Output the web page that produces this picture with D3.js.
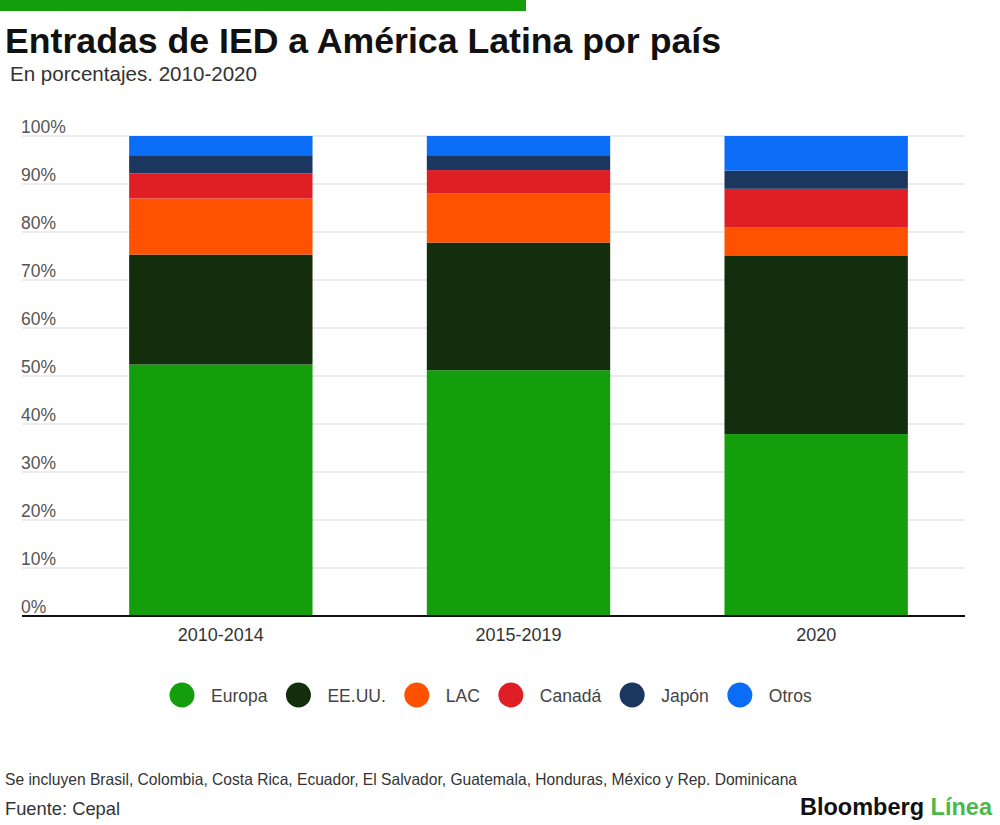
<!DOCTYPE html>
<html>
<head>
<meta charset="utf-8">
<script src="https://cdn.jsdelivr.net/npm/d3@7"></script>
<style>
  body { margin: 0; background: #fff; }
  svg { display: block; }
</style>
</head>
<body>
<div id="chart"></div>
<script>
// data (percent of total)
const periods = ["2010-2014", "2015-2019", "2020"];
const series = ["Europa", "EE.UU.", "LAC", "Canadá", "Japón", "Otros"];
const europa = [52.4, 51.2, 37.9];
const eeuu   = [22.9, 26.6, 37.1];
const lac    = [11.7, 10.2, 5.9];
const canada = [5.2, 4.9, 8.1];
const japon  = [3.8, 3.1, 3.8];
const otros  = [4.0, 4.0, 7.2];
const yTicks = [0, 10, 20, 30, 40, 50, 60, 70, 80, 90, 100];
const colors = ["#149e0c", "#122e0c", "#ff5200", "#e01e26", "#1b365f", "#0b6cf5"];

const width = 1000, height = 825;
const narrow = "'Liberation Sans Narrow', 'Liberation Sans', Arial, sans-serif";
const regular = "'Liberation Sans', Arial, sans-serif";

const rows = periods.map((p, i) => ({
  period: p,
  "Europa": europa[i], "EE.UU.": eeuu[i], "LAC": lac[i],
  "Canadá": canada[i], "Japón": japon[i], "Otros": otros[i]
}));

const svg = d3.select("#chart").append("svg")
  .attr("width", width)
  .attr("height", height);

// green strip on top
svg.append("rect").attr("x", 0).attr("y", 0).attr("width", 526).attr("height", 11).attr("fill", "#149e0c");

svg.append("text")
  .attr("x", 5).attr("y", 53)
  .attr("font-family", narrow).attr("font-weight", "bold").attr("font-size", 35)
  .attr("fill", "#111")
  .attr("textLength", 716).attr("lengthAdjust", "spacingAndGlyphs")
  .text("Entradas de IED a América Latina por país");

svg.append("text")
  .attr("x", 10).attr("y", 81)
  .attr("font-family", narrow).attr("font-size", 20)
  .attr("fill", "#333")
  .attr("textLength", 247).attr("lengthAdjust", "spacingAndGlyphs")
  .text("En porcentajes. 2010-2020");

const x = d3.scaleBand().domain(periods).range([72, 965])
  .paddingInner(0.384).paddingOuter(0.192);
const y = d3.scaleLinear().domain([0, 100]).range([616, 136]);

// gridlines + labels sitting on top of them
const grid = svg.append("g");
grid.selectAll("line").data(yTicks.slice(1)).join("line")
  .attr("x1", 22).attr("x2", 965)
  .attr("y1", d => y(d)).attr("y2", d => y(d))
  .attr("stroke", "#d9d9d9").attr("stroke-width", 1);
grid.selectAll("text").data(yTicks).join("text")
  .attr("x", 21).attr("y", d => y(d) - 3.5)
  .attr("font-family", regular).attr("font-size", 17.5)
  .attr("fill", "#555")
  .text(d => d + "%");

const stacked = d3.stack().keys(series)(rows);

svg.append("g").selectAll("g").data(stacked).join("g")
  .attr("fill", (d, i) => colors[i])
  .selectAll("rect").data(d => d).join("rect")
  .attr("x", d => x(d.data.period))
  .attr("width", x.bandwidth())
  .attr("y", d => y(d[1]))
  .attr("height", d => y(d[0]) - y(d[1]));

// baseline
svg.append("line")
  .attr("x1", 22).attr("x2", 965).attr("y1", y(0)).attr("y2", y(0))
  .attr("stroke", "#111").attr("stroke-width", 2);

const xAxis = svg.append("g").attr("transform", `translate(0,${y(0)})`)
  .call(d3.axisBottom(x).tickSize(0).tickPadding(0));
xAxis.select(".domain").remove();
xAxis.selectAll("text")
  .attr("dy", 0).attr("y", 25)
  .attr("font-family", regular).attr("font-size", 18).attr("fill", "#333");

// legend
const legend = svg.append("g");
let cx = 182;
series.forEach((s, i) => {
  legend.append("circle").attr("cx", cx).attr("cy", 695).attr("r", 12.5).attr("fill", colors[i]);
  const t = legend.append("text")
    .attr("x", cx + 29).attr("y", 701.5)
    .attr("font-family", regular).attr("font-size", 17.5).attr("fill", "#444")
    .text(s);
  cx = cx + 29 + t.node().getComputedTextLength() + 31;
});

// footer
svg.append("text")
  .attr("x", 5).attr("y", 785)
  .attr("font-family", narrow).attr("font-size", 16.5).attr("fill", "#333")
  .attr("textLength", 792).attr("lengthAdjust", "spacingAndGlyphs")
  .text("Se incluyen Brasil, Colombia, Costa Rica, Ecuador, El Salvador, Guatemala, Honduras, México y Rep. Dominicana");

svg.append("text")
  .attr("x", 5).attr("y", 815)
  .attr("font-family", narrow).attr("font-size", 19).attr("fill", "#333")
  .attr("textLength", 115).attr("lengthAdjust", "spacingAndGlyphs")
  .text("Fuente: Cepal");

const brand = svg.append("text")
  .attr("x", 992).attr("y", 815).attr("text-anchor", "end")
  .attr("font-family", regular).attr("font-weight", "bold").attr("font-size", 24)
  .attr("textLength", 192).attr("lengthAdjust", "spacingAndGlyphs");
brand.append("tspan").attr("fill", "#111").text("Bloomberg ");
brand.append("tspan").attr("fill", "#4cb848").text("Línea");
</script>
</body>
</html>
